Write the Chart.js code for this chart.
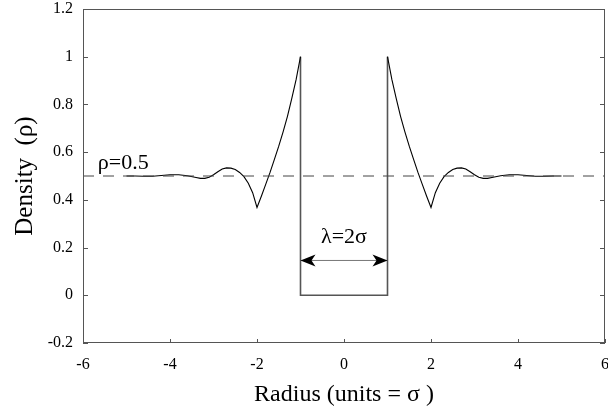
<!doctype html>
<html lang="en">
  <head>
    <meta charset="utf-8">
    <title>density profile</title>
    <style>
      html, body { margin: 0; padding: 0; background: #fff; }
    </style>
  </head>
  <body>
    <canvas id="density-chart" width="608" height="411"></canvas>

    <script src="https://cdn.jsdelivr.net/npm/chart.js"></script>

    <script>
        // --- data ---
        // left wing of the profile (r < -1)
        var leftRadius = [-5.0, -4.8, -4.6, -4.4, -4.2, -4.0, -3.8, -3.6, -3.4, -3.3, -3.2, -3.1, -3.0,
                          -2.9, -2.8, -2.7, -2.6, -2.5, -2.4, -2.3, -2.2, -2.1, -2.0,
                          -1.9, -1.8, -1.7, -1.6, -1.5, -1.4, -1.3, -1.2, -1.1, -1.0]
        var leftDensity = [0.500, 0.500, 0.499, 0.499, 0.502, 0.505, 0.505, 0.501, 0.494, 0.490, 0.490, 0.495, 0.505,
                           0.518, 0.529, 0.534, 0.533, 0.527, 0.515, 0.497, 0.470, 0.430, 0.368,
                           0.415, 0.465, 0.515, 0.570, 0.625, 0.685, 0.750, 0.825, 0.905, 1.000]

        // right wing of the profile (r > 1)
        var rightRadius = [1.0, 1.1, 1.2, 1.3, 1.4, 1.5, 1.6, 1.7, 1.8, 1.9, 2.0,
                           2.1, 2.2, 2.3, 2.4, 2.5, 2.6, 2.7, 2.8, 2.9, 3.0,
                           3.1, 3.2, 3.3, 3.4, 3.6, 3.8, 4.0, 4.2, 4.4, 4.6, 4.8, 5.0]
        var rightDensity = [1.000, 0.905, 0.825, 0.750, 0.685, 0.625, 0.570, 0.515, 0.465, 0.415, 0.368,
                            0.430, 0.470, 0.497, 0.515, 0.527, 0.533, 0.534, 0.529, 0.518, 0.505,
                            0.495, 0.490, 0.490, 0.494, 0.501, 0.505, 0.505, 0.502, 0.499, 0.499, 0.500, 0.500]

        // the excluded core of width lambda
        var coreRadius = [-1, -1, 1, 1]
        var coreDensity = [1, 0, 0, 1]

        // bulk density reference
        var bulkRadius = [-6, 6]
        var bulkDensity = [0.5, 0.5]

        // lambda arrow
        var arrowRadius = [-1, 1]
        var arrowDensity = [0.146, 0.146]

        // tick values
        var xTicks = [-6, -4, -2, 0, 2, 4, 6]
        var yTicks = [-0.2, 0, 0.2, 0.4, 0.6, 0.8, 1, 1.2]
        var yTickLabels = ['-0.2', '0', '0.2', '0.4', '0.6', '0.8', '1', '1.2']

        // annotation texts
        var bulkLabel = { text: 'ρ=0.5', x: -5.66, y: 0.53 }
        var lambdaLabel = { text: 'λ=2σ', x: 0, y: 0.22 }

        var serif = '"Liberation Serif", "Times New Roman", serif'

        // helpers
        function toPoints(xs, ys) {
            return xs.map(function (x, i) { return { x: x, y: ys[i] } })
        }

        function line(ctx, x1, y1, x2, y2) {
            ctx.beginPath()
            ctx.moveTo(x1, y1)
            ctx.lineTo(x2, y2)
            ctx.stroke()
        }

        function arrowHead(ctx, tipX, tipY, dir) {
            // dir = -1 points left, +1 points right
            ctx.beginPath()
            ctx.moveTo(tipX, tipY)
            ctx.lineTo(tipX - dir * 15, tipY - 6)
            ctx.lineTo(tipX - dir * 11, tipY)
            ctx.lineTo(tipX - dir * 15, tipY + 6)
            ctx.closePath()
            ctx.fill()
        }

        // frame, inward ticks and annotations
        var framePlugin = {
            id: 'frame',
            afterDatasetsDraw: function (chart) {
                var ctx = chart.ctx
                var a = chart.chartArea
                var xs = chart.scales.x
                var ys = chart.scales.y
                ctx.save()
                ctx.strokeStyle = '#555'
                ctx.lineWidth = 1
                ctx.strokeRect(Math.round(a.left) + 0.5, Math.round(a.top) + 0.5,
                               Math.round(a.right - a.left) - 1, Math.round(a.bottom - a.top) - 1)

                yTicks.forEach(function (v) {
                    var py = Math.round(ys.getPixelForValue(v)) + 0.5
                    line(ctx, a.left, py, a.left + 5, py)
                    line(ctx, a.right - 5, py, a.right, py)
                })
                xTicks.forEach(function (v) {
                    var px = Math.round(xs.getPixelForValue(v)) + 0.5
                    line(ctx, px, a.bottom, px, a.bottom - 4)
                })

                ctx.fillStyle = '#000'
                ctx.font = '22px ' + serif
                ctx.textBaseline = 'alphabetic'
                ctx.textAlign = 'left'
                ctx.fillText(bulkLabel.text, xs.getPixelForValue(bulkLabel.x), ys.getPixelForValue(bulkLabel.y))
                ctx.textAlign = 'center'
                ctx.fillText(lambdaLabel.text, xs.getPixelForValue(lambdaLabel.x), ys.getPixelForValue(lambdaLabel.y))

                var ay = ys.getPixelForValue(arrowDensity[0])
                arrowHead(ctx, xs.getPixelForValue(arrowRadius[0]), ay, -1)
                arrowHead(ctx, xs.getPixelForValue(arrowRadius[1]), ay, 1)
                ctx.restore()
            }
        }

        var densityChart = new Chart(document.getElementById('density-chart'), {
            type: 'line',
            data: {
                datasets: [
                    {
                        data: toPoints(bulkRadius, bulkDensity),
                        borderColor: '#444',
                        borderWidth: 1,
                        borderDash: [11, 9]
                    },
                    {
                        data: toPoints(leftRadius, leftDensity),
                        borderColor: '#000',
                        borderWidth: 1.1
                    },
                    {
                        data: toPoints(rightRadius, rightDensity),
                        borderColor: '#000',
                        borderWidth: 1.1
                    },
                    {
                        data: toPoints(coreRadius, coreDensity),
                        borderColor: '#555',
                        borderWidth: 1.6
                    },
                    {
                        data: toPoints(arrowRadius, arrowDensity),
                        borderColor: '#777',
                        borderWidth: 1
                    }
                ]
            },
            options: {
                responsive: false,
                animation: false,
                devicePixelRatio: 1,
                layout: { padding: { top: 9, right: 3 } },
                elements: { point: { radius: 0 }, line: { tension: 0, fill: false } },
                plugins: {
                    legend: { display: false },
                    tooltip: { enabled: false }
                },
                scales: {
                    x: {
                        type: 'linear',
                        min: -6,
                        max: 6,
                        afterBuildTicks: function (scale) {
                            scale.ticks = xTicks.map(function (v) { return { value: v } })
                        },
                        afterFit: function (scale) {
                            scale.height = 68
                            scale.paddingLeft = 0
                            scale.paddingRight = 0
                        },
                        grid: { display: false, drawTicks: false },
                        border: { display: false },
                        ticks: {
                            padding: 12,
                            color: '#000',
                            font: { family: serif, size: 16 },
                            maxRotation: 0
                        },
                        title: {
                            display: true,
                            text: 'Radius (units = σ )',
                            color: '#000',
                            font: { family: serif, size: 24 },
                            padding: { top: 0, bottom: 2 }
                        }
                    },
                    y: {
                        min: -0.2,
                        max: 1.2,
                        afterBuildTicks: function (scale) {
                            scale.ticks = yTicks.map(function (v) { return { value: v } })
                        },
                        afterFit: function (scale) {
                            scale.width = 83
                            scale.paddingTop = 0
                            scale.paddingBottom = 0
                        },
                        grid: { display: false, drawTicks: false },
                        border: { display: false },
                        ticks: {
                            padding: 10,
                            color: '#000',
                            font: { family: serif, size: 16 },
                            callback: function (value, index) { return yTickLabels[index] }
                        },
                        title: {
                            display: true,
                            text: 'Density  (ρ)',
                            color: '#000',
                            font: { family: serif, size: 25 },
                            padding: { top: 10, bottom: 0 }
                        }
                    }
                }
            },
            plugins: [framePlugin]
        });
    </script>
  </body>
</html>
